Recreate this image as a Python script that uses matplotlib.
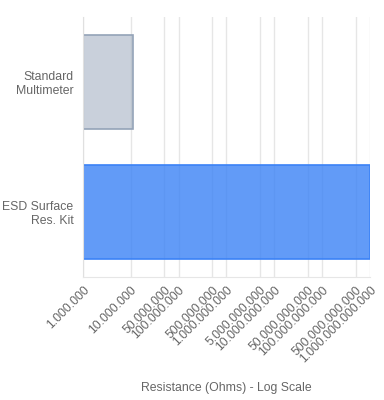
import matplotlib.pyplot as plt
import numpy as np

plt.rcParams['font.family'] = ['Liberation Sans', 'DejaVu Sans']

categories = ['Standard\nMultimeter', 'ESD Surface\nRes. Kit']
values = [1e7, 1e12]
tick_values = [1e6, 1e7, 5e7, 1e8, 5e8, 1e9, 5e9, 1e10, 5e10, 1e11, 5e11, 1e12]
fills = [(148/255, 163/255, 184/255, 0.5), (59/255, 130/255, 246/255, 0.8)]
edges = ['#94a3b8', '#3b82f6']

fig = plt.figure(figsize=(3.84, 4), dpi=100)
ax = fig.add_axes([83/384, 123/400, 287/384, 260/400])

y = np.arange(len(categories))
ax.barh(y, values, height=0.72, left=1e6, color=fills, edgecolor=edges, linewidth=1.2, zorder=2)
ax.set_xscale('log')
ax.set_xlim(1e6, 1e12)
ax.set_ylim(-0.5, 1.5)
ax.invert_yaxis()

ax.set_yticks(y)
ax.set_yticklabels(categories, fontsize=8.8, color='#666666', ha='right', linespacing=1.15)
ax.tick_params(axis='y', length=0, pad=7)

ax.set_xticks(tick_values)
ax.xaxis.set_minor_locator(plt.NullLocator())
ax.set_xticklabels(['{:,}'.format(int(v)).replace(',', '.') for v in tick_values],
                   rotation=45, ha='right', rotation_mode='anchor', fontsize=8.8, color='#666666')
ax.tick_params(axis='x', length=0, pad=5)

ax.grid(axis='x', color='#e6e6e6', linewidth=1, zorder=0)
for s in ['top', 'right']:
    ax.spines[s].set_visible(False)
ax.spines['left'].set_color('#e0e0e0')
ax.spines['bottom'].set_color('#e6e6e6')

fig.text(226/384, 1 - 388/400, 'Resistance (Ohms) - Log Scale', fontsize=8.8, color='#666666',
         ha='center', va='center')

fig.savefig('out.png', dpi=100)
